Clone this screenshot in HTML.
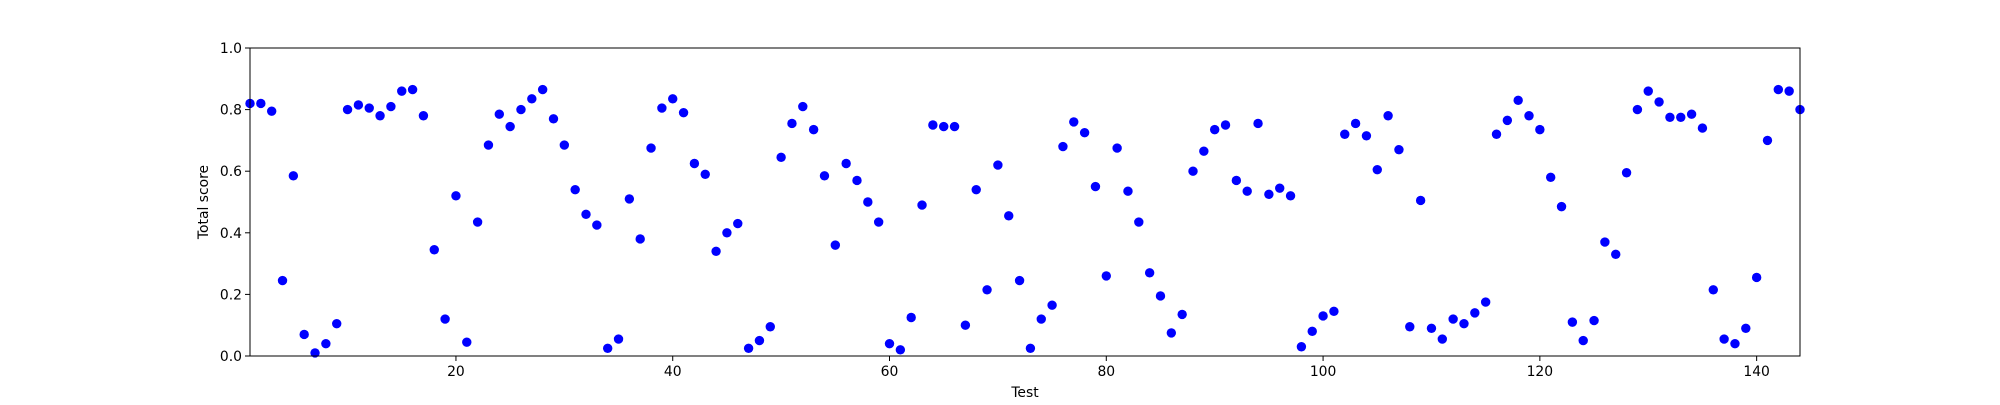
<!DOCTYPE html>
<html><head><meta charset="utf-8"><style>
html,body{margin:0;padding:0;background:#fff;}
svg text{font-family:"DejaVu Sans","Liberation Sans",sans-serif;font-size:13.9px;fill:#000;}
</style></head><body>
<svg id="chart" width="2000" height="400" xmlns="http://www.w3.org/2000/svg">
<rect width="2000" height="400" fill="#fff"/>
<g id="ticks"></g>
<g id="points"></g>
<rect x="250" y="48" width="1550" height="308" fill="none" stroke="#000" stroke-width="1"/>
<text x="1025" y="397" text-anchor="middle">Test</text>
<text transform="translate(208,202) rotate(-90)" text-anchor="middle">Total score</text>
</svg>
<script>
const scores = [0.82,0.82,0.795,0.245,0.585,0.07,0.01,0.04,0.105,0.80,
0.815,0.805,0.78,0.81,0.86,0.865,0.78,0.345,0.12,0.52,
0.045,0.435,0.685,0.785,0.745,0.80,0.835,0.865,0.77,0.685,
0.54,0.46,0.425,0.025,0.055,0.51,0.38,0.675,0.805,0.835,
0.79,0.625,0.59,0.34,0.40,0.43,0.025,0.05,0.095,0.645,
0.755,0.81,0.735,0.585,0.36,0.625,0.57,0.50,0.435,0.04,
0.02,0.125,0.49,0.75,0.745,0.745,0.10,0.54,0.215,0.62,
0.455,0.245,0.025,0.12,0.165,0.68,0.76,0.725,0.55,0.26,
0.675,0.535,0.435,0.27,0.195,0.075,0.135,0.60,0.665,0.735,
0.75,0.57,0.535,0.755,0.525,0.545,0.52,0.03,0.08,0.13,
0.145,0.72,0.755,0.715,0.605,0.78,0.67,0.095,0.505,0.09,
0.055,0.12,0.105,0.14,0.175,0.72,0.765,0.83,0.78,0.735,
0.58,0.485,0.11,0.05,0.115,0.37,0.33,0.595,0.80,0.86,
0.825,0.775,0.775,0.785,0.74,0.215,0.055,0.04,0.09,0.255,
0.70,0.865,0.86,0.80];
const xTicks = [20,40,60,80,100,120,140];
const yTicks = [0.0,0.2,0.4,0.6,0.8,1.0];
const xMin = 1, xMax = 144;
const L=250,R=1800,T=48,B=356;
function sx(v){return L+(v-xMin)/(xMax-xMin)*(R-L);}
function sy(v){return B-v*(B-T);}
const NS="http://www.w3.org/2000/svg";
const tg=document.getElementById('ticks');
xTicks.forEach(t=>{
  const x=sx(t);
  const ln=document.createElementNS(NS,'line');
  ln.setAttribute('x1',x);ln.setAttribute('x2',x);ln.setAttribute('y1',B);ln.setAttribute('y2',B+5);
  ln.setAttribute('stroke','#000');
  
  
  tg.appendChild(ln);
  const tx=document.createElementNS(NS,'text');
  tx.setAttribute('x',x);tx.setAttribute('y',B+20);tx.setAttribute('text-anchor','middle');
  tx.textContent=t;
  
  
  tg.appendChild(tx);
});
yTicks.forEach(t=>{
  const y=sy(t);
  const ln=document.createElementNS(NS,'line');
  ln.setAttribute('x1',L-5);ln.setAttribute('x2',L);ln.setAttribute('y1',y);ln.setAttribute('y2',y);
  ln.setAttribute('stroke','#000');
  
  
  tg.appendChild(ln);
  const tx=document.createElementNS(NS,'text');
  tx.setAttribute('x',L-8);tx.setAttribute('y',y+5);tx.setAttribute('text-anchor','end');
  tx.textContent=t.toFixed(1);
  
  
  tg.appendChild(tx);
});
const pg=document.getElementById('points');
scores.forEach((v,i)=>{
  const c=document.createElementNS(NS,'circle');
  c.setAttribute('cx',sx(i+1));c.setAttribute('cy',sy(v));c.setAttribute('r',4.7);
  c.setAttribute('fill','#0000ff');
  
  
  pg.appendChild(c);
});
</script>
</body></html>
